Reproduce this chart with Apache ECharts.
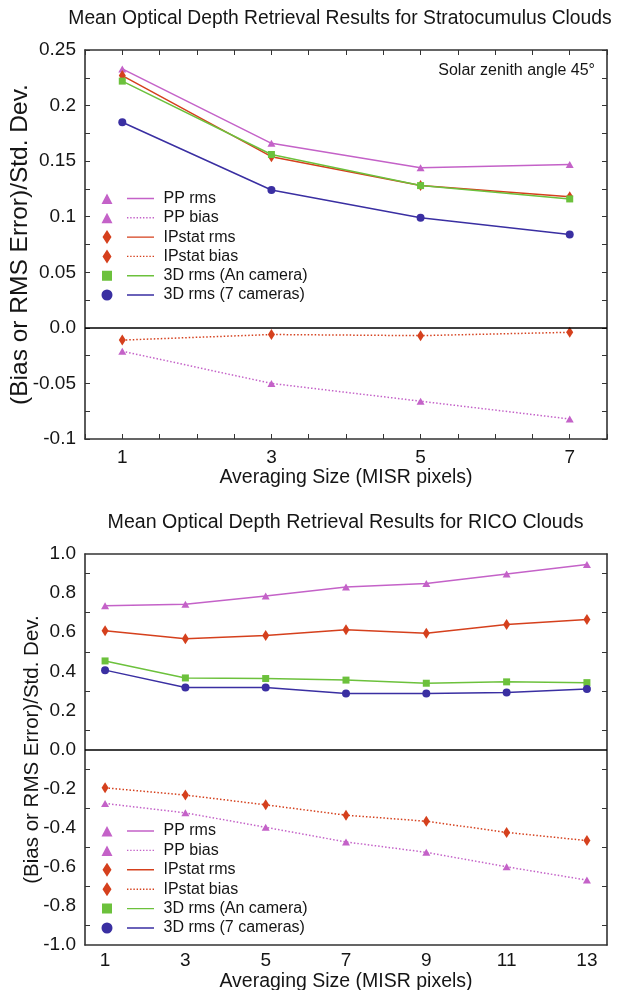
<!DOCTYPE html>
<html>
<head>
<meta charset="utf-8">
<script src="https://cdn.jsdelivr.net/npm/echarts@6/dist/echarts.min.js"></script>
<style>
  html, body { margin: 0; padding: 0; background: #ffffff; }
  #chart { width: 621px; height: 990px; }
</style>
</head>
<body>
<div id="chart"></div>
<script>
// ---- Stratocumulus clouds (averaging sizes 1..7) ----
const scSizes   = [1, 3, 5, 7];
const scPPrms   = [0.233, 0.166, 0.144, 0.147];
const scPPbias  = [-0.021, -0.050, -0.066, -0.082];
const scIPrms   = [0.227, 0.154, 0.128, 0.118];
const scIPbias  = [-0.011, -0.006, -0.007, -0.004];
const sc3DAn    = [0.222, 0.156, 0.128, 0.116];
const sc3D7     = [0.185, 0.124, 0.099, 0.084];
const scXLabels = [1, 3, 5, 7];
const scYLabels = ['-0.1', '-0.05', '0.0', '0.05', '0.1', '0.15', '0.2', '0.25'];

// ---- RICO clouds (averaging sizes 1..13) ----
const ricoSizes      = [1, 3, 5, 7, 9, 11, 13];
const ricoCategories = ['1', '2', '3', '4', '5', '6', '7', '8', '9', '10', '11', '12', '13'];
const ricoPPrms      = [0.735, 0.743, 0.785, 0.831, 0.849, 0.898, 0.946];
const ricoPPbias     = [-0.276, -0.324, -0.398, -0.473, -0.526, -0.600, -0.668];
const ricoIPrms      = [0.608, 0.566, 0.583, 0.613, 0.595, 0.639, 0.665];
const ricoIPbias     = [-0.196, -0.233, -0.283, -0.336, -0.367, -0.424, -0.466];
const rico3DAn       = [0.453, 0.366, 0.363, 0.355, 0.339, 0.346, 0.342];
const rico3D7        = [0.406, 0.317, 0.317, 0.287, 0.287, 0.292, 0.310];
const ricoYLabels    = ['-1.0', '-0.8', '-0.6', '-0.4', '-0.2', '0.0', '0.2', '0.4', '0.6', '0.8', '1.0'];

const seriesNames = ['PP rms', 'PP bias', 'IPstat rms', 'IPstat bias', '3D rms (An camera)', '3D rms (7 cameras)'];

const titleTop    = 'Mean Optical Depth Retrieval Results for Stratocumulus Clouds';
const titleBottom = 'Mean Optical Depth Retrieval Results for RICO Clouds';
const xName       = 'Averaging Size (MISR pixels)';
const yName       = '(Bias or RMS Error)/Std. Dev.';
const noteText    = 'Solar zenith angle 45\u00B0';

// ---- styling ----
const FONT = '"Liberation Sans", Arial, Helvetica, sans-serif';
const AXIS = '#333333';
const TEXT = '#151515';
const MAGENTA = '#c462c8';
const RED = '#d5401d';
const GREEN = '#6cc13c';
const BLUE = '#3a2fa2';

const look = {
  'PP rms':             { color: MAGENTA, symbol: 'triangle', size: [8, 7],  dash: 'solid' },
  'PP bias':            { color: MAGENTA, symbol: 'triangle', size: [8, 7],  dash: [1.5, 2] },
  'IPstat rms':         { color: RED,     symbol: 'diamond',  size: [7, 11], dash: 'solid' },
  'IPstat bias':        { color: RED,     symbol: 'diamond',  size: [7, 11], dash: [1.5, 2] },
  '3D rms (An camera)': { color: GREEN,   symbol: 'rect',     size: 7,       dash: 'solid' },
  '3D rms (7 cameras)': { color: BLUE,    symbol: 'circle',   size: 8,       dash: 'solid' }
};

// legend key: marker on the left, line sample on the right (58 x 14 box)
const KEY_MARK = {
  triangle: 'M1,12.5L6.5,2L12,12.5Z',
  diamond:  'M6.5,0L11,7L6.5,14L2,7Z',
  rect:     'M1.5,2h10v10h-10Z',
  circle:   'M1,7A5.5,5.5 0 1,1 12,7A5.5,5.5 0 1,1 1,7Z'
};
const KEY_BOX = 'M0,0h0.01v0.01h-0.01Z M57.99,13.99h0.01v0.01h-0.01Z';
function keyLine(dotted) {
  if (!dotted) return 'M26.5,6.3h27v1.4h-27Z';
  let p = '';
  for (let x = 26.5; x < 53.5; x += 3.2) p += 'M' + x.toFixed(2) + ',6.3h1.4v1.4h-1.4Z';
  return p;
}
function keyIcon(name) {
  const s = look[name];
  return 'path://' + KEY_BOX + ' ' + KEY_MARK[s.symbol] + ' ' + keyLine(s.dash !== 'solid');
}

const tickStyle = { inside: true, length: 5, lineStyle: { color: AXIS, width: 1 } };
const lineAxis = { show: true, onZero: false, lineStyle: { color: AXIS, width: 1.6 } };
const labelText = { color: TEXT, fontSize: 19, fontFamily: FONT };

function makeSeries(name, xIdx, yIdx, xs, vals, zeroLine) {
  const s = look[name];
  const out = {
    type: 'line', name, xAxisIndex: xIdx, yAxisIndex: yIdx,
    data: xs.map((x, i) => [x, vals[i]]),
    symbol: s.symbol, symbolSize: s.size,
    lineStyle: { color: s.color, width: 1.5, type: s.dash },
    itemStyle: { color: s.color },
    animation: false, silent: true
  };
  if (zeroLine) {
    out.markLine = {
      silent: true, symbol: ['none', 'none'], animation: false,
      label: { show: false },
      lineStyle: { color: '#000', width: 1.5, type: 'solid' },
      emphasis: { disabled: true },
      data: [{ yAxis: 0 }]
    };
  }
  return out;
}

function yAxisPair(gridIndex, min, max, step, labels, nameSize, nameGap) {
  const base = {
    gridIndex, type: 'value', min, max, interval: step,
    axisLine: lineAxis, axisTick: tickStyle,
    minorTick: { show: true, splitNumber: 2, length: 5, lineStyle: { color: AXIS, width: 1 } },
    splitLine: { show: false }, minorSplitLine: { show: false }
  };
  const left = Object.assign({}, base, {
    position: 'left',
    axisLabel: Object.assign({}, labelText, {
      margin: 9, showMinLabel: true, showMaxLabel: true,
      formatter: v => labels[Math.round((v - min) / step)] || ''
    }),
    name: yName, nameLocation: 'middle', nameRotate: 90, nameGap, nameMoveOverlap: false,
    nameTextStyle: { color: TEXT, fontSize: nameSize, fontFamily: FONT }
  });
  const right = Object.assign({}, base, { position: 'right', axisLabel: { show: false } });
  return [left, right];
}

function legendBlock(top, gap) {
  return {
    orient: 'vertical', left: 100.5, top, padding: 0,
    itemWidth: 58, itemHeight: 14, itemGap: gap,
    selectedMode: false, itemStyle: { borderWidth: 0 },
    textStyle: { color: TEXT, fontSize: 16, fontFamily: FONT },
    data: seriesNames.map(n => ({ name: n, icon: keyIcon(n) }))
  };
}

const chart = echarts.init(document.getElementById('chart'), null, { renderer: 'canvas' });

const option = {
  backgroundColor: '#ffffff',
  animation: false,
  grid: [
    { left: 85, right: 14, top: 50, height: 389, outerBoundsMode: 'none', containLabel: false },
    { left: 85, right: 14, top: 554, height: 391, outerBoundsMode: 'none', containLabel: false }
  ],
  xAxis: [
    { // stratocumulus, bottom
      gridIndex: 0, type: 'value', min: 0.5, max: 7.5, interval: 0.5, position: 'bottom',
      axisLine: lineAxis, axisTick: tickStyle, splitLine: { show: false },
      axisLabel: Object.assign({}, labelText, {
        margin: 9, formatter: v => (scXLabels.indexOf(v) >= 0 ? String(v) : '')
      }),
      name: xName, nameLocation: 'middle', nameGap: 28.5, nameMoveOverlap: false,
      nameTextStyle: { color: TEXT, fontSize: 19.5, fontFamily: FONT }
    },
    { // stratocumulus, top frame
      gridIndex: 0, type: 'value', min: 0.5, max: 7.5, interval: 0.5, position: 'top',
      axisLine: lineAxis, axisTick: tickStyle, splitLine: { show: false }, axisLabel: { show: false }
    },
    { // RICO, bottom
      gridIndex: 1, type: 'category', data: ricoCategories, boundaryGap: true, position: 'bottom',
      axisLine: lineAxis,
      axisTick: Object.assign({}, tickStyle, { alignWithLabel: true, interval: 0 }),
      axisLabel: Object.assign({}, labelText, { margin: 6.5, interval: 1 }),
      splitLine: { show: false },
      name: xName, nameLocation: 'middle', nameGap: 27, nameMoveOverlap: false,
      nameTextStyle: { color: TEXT, fontSize: 19.5, fontFamily: FONT }
    },
    { // RICO, top frame
      gridIndex: 1, type: 'category', data: ricoCategories, boundaryGap: true, position: 'top',
      axisLine: lineAxis,
      axisTick: Object.assign({}, tickStyle, { alignWithLabel: true, interval: 0 }),
      axisLabel: { show: false }, splitLine: { show: false }
    }
  ],
  yAxis: [].concat(
    yAxisPair(0, -0.1, 0.25, 0.05, scYLabels, 24.5, 52),
    yAxisPair(1, -1, 1, 0.2, ricoYLabels, 20.5, 42)
  ),
  legend: [legendBlock(190.5, 3.3), legendBlock(823, 3.4)],
  series: [
    makeSeries('PP rms', 0, 0, scSizes, scPPrms, true),
    makeSeries('PP bias', 0, 0, scSizes, scPPbias),
    makeSeries('IPstat rms', 0, 0, scSizes, scIPrms),
    makeSeries('IPstat bias', 0, 0, scSizes, scIPbias),
    makeSeries('3D rms (An camera)', 0, 0, scSizes, sc3DAn),
    makeSeries('3D rms (7 cameras)', 0, 0, scSizes, sc3D7),

    makeSeries('PP rms', 2, 2, ricoSizes.map(String), ricoPPrms, true),
    makeSeries('PP bias', 2, 2, ricoSizes.map(String), ricoPPbias),
    makeSeries('IPstat rms', 2, 2, ricoSizes.map(String), ricoIPrms),
    makeSeries('IPstat bias', 2, 2, ricoSizes.map(String), ricoIPbias),
    makeSeries('3D rms (An camera)', 2, 2, ricoSizes.map(String), rico3DAn),
    makeSeries('3D rms (7 cameras)', 2, 2, ricoSizes.map(String), rico3D7)
  ],
  graphic: [
    { type: 'text', x: 340, y: 19,
      style: { text: titleTop, fill: TEXT, font: '19.3px ' + FONT, textAlign: 'center', textVerticalAlign: 'middle' } },
    { type: 'text', x: 345.5, y: 523,
      style: { text: titleBottom, fill: TEXT, font: '19.6px ' + FONT, textAlign: 'center', textVerticalAlign: 'middle' } },
    { type: 'text', x: 595, y: 71,
      style: { text: noteText, fill: TEXT, font: '16px ' + FONT, textAlign: 'right', textVerticalAlign: 'middle' } }
  ]
};

chart.setOption(option);
</script>
</body>
</html>
